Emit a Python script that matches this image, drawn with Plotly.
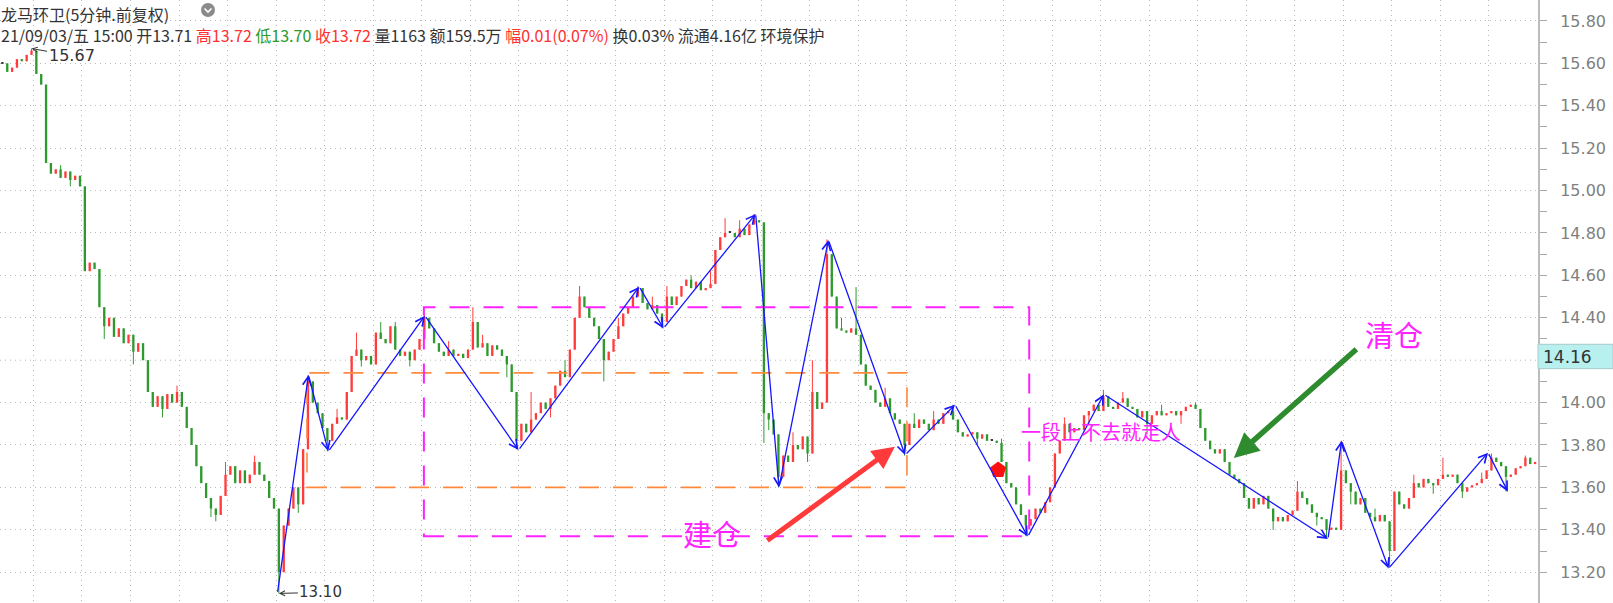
import plotly.graph_objects as go

# ---------------- data ----------------
first_open = 15.60
closes = [
    15.60, 15.56, 15.58, 15.62, 15.61, 15.64, 15.66, 15.55, 15.50, 15.13,
    15.08, 15.10, 15.06, 15.09, 15.05, 15.07, 15.02, 14.62, 14.66, 14.63,
    14.45, 14.36, 14.40, 14.31, 14.35, 14.28, 14.32, 14.24, 14.28, 14.20,
    14.05, 13.98, 14.03, 13.97, 14.04, 14.00, 14.05, 13.98, 13.88, 13.80,
    13.70, 13.62, 13.55, 13.50, 13.47, 13.56, 13.66, 13.70, 13.62, 13.68,
    13.62, 13.66, 13.72, 13.66, 13.63, 13.55, 13.50, 13.20, 13.42, 13.50,
    13.60, 13.52, 13.78, 14.10, 14.00, 13.95, 13.88, 13.82, 13.90, 13.93,
    13.92, 14.05, 14.22, 14.25, 14.20, 14.22, 14.18, 14.33, 14.30, 14.28,
    14.36, 14.25, 14.22, 14.24, 14.20, 14.25, 14.30, 14.40, 14.35, 14.28,
    14.24, 14.22, 14.25, 14.22, 14.23, 14.21, 14.25, 14.38, 14.26, 14.28,
    14.22, 14.27, 14.25, 14.22, 14.18, 14.05, 13.82, 13.90, 13.86, 13.92,
    13.95, 14.00, 13.97, 14.02, 14.08, 14.15, 14.12, 14.25, 14.40, 14.50,
    14.45, 14.40, 14.36, 14.30, 14.20, 14.24, 14.30, 14.36, 14.42, 14.45,
    14.50, 14.54, 14.47, 14.44, 14.46, 14.42, 14.38, 14.50, 14.46, 14.50,
    14.55, 14.58, 14.54, 14.57, 14.53, 14.54, 14.56, 14.72, 14.78, 14.80,
    14.80, 14.78, 14.82, 14.79, 14.84, 14.86, 14.85, 13.95, 13.92, 13.85,
    13.65, 13.75, 13.72, 13.80, 13.78, 13.84, 13.76, 14.05, 13.97, 14.00,
    14.70, 14.50, 14.35, 14.34, 14.33, 14.35, 14.32, 14.18, 14.08, 14.06,
    14.00, 13.98, 14.02, 13.95, 13.92, 13.90, 13.80, 13.90, 13.88, 13.92,
    13.90, 13.87, 13.92, 13.90, 13.95, 13.96, 13.92, 13.86, 13.84, 13.85,
    13.86, 13.83, 13.85, 13.82, 13.82, 13.81, 13.72, 13.62, 13.60, 13.52,
    13.47, 13.42, 13.45, 13.50, 13.48, 13.53, 13.60, 13.76, 13.82, 13.90,
    13.86, 13.88, 13.87, 13.94, 13.96, 13.99, 13.96, 14.03, 13.98, 13.97,
    14.00, 14.02, 13.98, 13.97, 13.93, 13.96, 13.90, 13.94, 13.96, 13.94,
    13.95, 13.96, 13.94, 13.96, 13.98, 13.99, 13.97, 13.88, 13.82, 13.78,
    13.76, 13.78, 13.72, 13.66, 13.64, 13.62, 13.55, 13.50, 13.55, 13.52,
    13.56, 13.50, 13.44, 13.46, 13.44, 13.47, 13.49, 13.58, 13.55, 13.52,
    13.48, 13.46, 13.45, 13.40, 13.41, 13.40, 13.68, 13.62, 13.58, 13.52,
    13.55, 13.48, 13.46, 13.44, 13.47, 13.44, 13.30, 13.58, 13.52, 13.50,
    13.55, 13.62, 13.60, 13.64, 13.62, 13.61, 13.64, 13.66, 13.65, 13.66,
    13.62, 13.58, 13.60, 13.61, 13.62, 13.64, 13.68, 13.74, 13.72, 13.70,
    13.65, 13.66, 13.69, 13.70, 13.74, 13.71, 13.72,
]
high_marks = [(6, 15.67), (12, 15.12), (23, 14.38), (36, 14.08), (46, 13.72),
              (52, 13.75), (63, 14.13), (69, 13.97), (73, 14.33), (78, 14.38),
              (81, 14.38), (87, 14.42), (92, 14.29), (97, 14.45), (99, 14.32),
              (109, 14.05), (116, 14.20), (119, 14.55), (127, 14.40), (131, 14.55),
              (134, 14.50), (137, 14.55), (142, 14.60), (146, 14.62), (149, 14.87),
              (152, 14.86), (155, 14.89), (163, 13.86), (167, 14.20), (170, 14.77),
              (173, 14.40), (176, 14.545), (182, 14.07), (188, 13.95), (192, 13.96),
              (196, 13.99), (206, 13.83), (219, 13.93), (227, 14.06), (231, 14.05),
              (239, 13.99), (246, 14.00), (256, 13.60), (267, 13.63), (276, 13.82),
              (283, 13.50), (291, 13.66), (297, 13.74), (305, 13.67), (307, 13.76),
              (314, 13.75)]
low_marks = [(14, 15.02), (21, 14.30), (27, 14.18), (33, 13.93), (43, 13.46),
             (44, 13.44), (57, 13.10), (61, 13.48), (67, 13.77), (74, 14.17),
             (84, 14.17), (104, 14.12), (106, 13.78), (113, 13.93), (124, 14.10),
             (136, 14.35), (157, 13.81), (158, 13.87), (160, 13.60), (166, 13.72),
             (186, 13.75), (201, 13.80), (211, 13.37), (216, 13.55), (224, 13.90),
             (236, 13.85), (243, 13.90), (262, 13.40), (271, 13.42), (273, 13.36),
             (278, 13.52), (286, 13.22), (295, 13.57), (301, 13.55), (310, 13.58)]

# zig-zag (bar index, price)
zig_x = [56.7, 63.1, 67.2, 87.1, 106.4, 131.3, 136.3, 155.3, 160.1, 170.3,
         186.1, 196.4, 211.4, 227.1, 273.3, 276.1, 285.8, 306.3, 310.4]
zig_y = [13.10, 14.13, 13.77, 14.41, 13.776, 14.547, 14.35, 14.89, 13.60, 14.767,
         13.753, 13.99, 13.368, 14.039, 13.357, 13.82, 13.218, 13.764, 13.58]

orange_box = (62.8, 186.5, 13.60, 14.14)   # x0, x1, y0, y1
magenta_box = (86.9, 211.7, 13.37, 14.45)

# labelled ticks (14.20 sits under the last-price box, so it only gets a grid line)
y_ticks = [13.2, 13.4, 13.6, 13.8, 14.0, 14.4, 14.6, 14.8, 15.0, 15.2, 15.4, 15.6, 15.8]
y_hidden = 14.2
y_minor = [13.3, 13.5, 13.7, 13.9, 14.1, 14.2, 14.3, 14.5, 14.7, 14.9, 15.1, 15.3, 15.5, 15.7]

last_price = 14.16
max_label = (6, 15.67)
min_label = (57, 13.10)
buy_marker = (205.3, 13.682)

title_line1 = "龙马环卫(5分钟.前复权)"
hdr = dict(date="21/09/03/五 15:00", open="13.71", high="13.72", low="13.70",
           close="13.72", vol="1163", amt="159.5万", chg="0.01(0.07%)",
           turn="0.03%", flow="4.16亿", sector="环境保护")

# ---------------- build ----------------
RED, GREEN, DARK = "#ff3c3c", "#2f9a2f", "#3a3a3a"
n = len(closes)
idx = list(range(n))
opens = [first_open] + closes[:-1]
highs = [max(o, c) for o, c in zip(opens, closes)]
lows = [min(o, c) for o, c in zip(opens, closes)]
for i, v in high_marks:
    highs[i] = max(highs[i], v)
for i, v in low_marks:
    lows[i] = min(lows[i], v)

colors = []
for o, c in zip(opens, closes):
    colors.append(RED if c > o else (GREEN if c < o else DARK))

fig = go.Figure()

# wicks
for col in (RED, GREEN, DARK):
    xs, ys = [], []
    for i in idx:
        if colors[i] == col:
            xs += [i, i, None]
            ys += [lows[i], highs[i], None]
    fig.add_trace(go.Scatter(x=xs, y=ys, mode="lines", line=dict(color=col, width=1),
                             hoverinfo="skip", showlegend=False))

# bodies
fig.add_trace(go.Bar(
    x=idx,
    y=[max(abs(c - o), 0.006) for o, c in zip(opens, closes)],
    base=[min(o, c) for o, c in zip(opens, closes)],
    width=0.48, marker=dict(color=colors, line=dict(width=0)),
    hoverinfo="skip", showlegend=False))

# buy marker
fig.add_trace(go.Scatter(x=[buy_marker[0]], y=[buy_marker[1]], mode="markers",
                         marker=dict(symbol="pentagon", size=17, color="#ff1010"),
                         hoverinfo="skip", showlegend=False))

shapes = []
# grid line for the unlabeled 14.20 level
shapes.append(dict(type="line", xref="paper", yref="y", x0=0, x1=1, y0=y_hidden, y1=y_hidden,
                   line=dict(color="#b8b8b8", width=1, dash="1px,4px"), layer="below"))
dash = "20px,14px"
x0, x1, y0, y1 = orange_box
shapes.append(dict(type="rect", xref="x", yref="y", x0=x0, x1=x1, y0=y0, y1=y1,
                   line=dict(color="#ff8a3d", width=1.6, dash=dash)))
x0, x1, y0, y1 = magenta_box
shapes.append(dict(type="rect", xref="x", yref="y", x0=x0, x1=x1, y0=y0, y1=y1,
                   line=dict(color="#ff22ff", width=2, dash=dash)))
# last price box
PW = 1538.0
shapes.append(dict(type="rect", xref="paper", yref="y", x0=1.0, x1=1613 / PW,
                   y0=last_price, y1=last_price + 0.115, fillcolor="#b8f0f0",
                   line=dict(color="#a8caca", width=1), layer="above"))
# header icon
H = 603.0
shapes.append(dict(type="circle", xref="paper", yref="paper",
                   x0=201 / PW, x1=215 / PW, y0=1 - 17 / H, y1=1 - 3 / H,
                   fillcolor="#8a8a8a", line=dict(width=0)))
shapes.append(dict(type="path", xref="paper", yref="paper",
                   path=f"M {204.5/PW},{1-8.5/H} L {208/PW},{1-12/H} L {211.5/PW},{1-8.5/H}",
                   line=dict(color="white", width=1.6)))

ann = []
# zig-zag segments with arrowheads
for k in range(1, len(zig_x)):
    ann.append(dict(x=zig_x[k], y=zig_y[k], ax=zig_x[k - 1], ay=zig_y[k - 1],
                    xref="x", yref="y", axref="x", ayref="y", text="",
                    showarrow=True, arrowhead=5, arrowsize=1.3, arrowwidth=1.3,
                    arrowcolor="#1616ff", standoff=0))

font_cn = "Noto Sans CJK SC"
num_font = "DejaVu Sans"
ann.append(dict(x=max_label[0], y=max_label[1], xref="x", yref="y", text=f"{max_label[1]:.2f}",
                showarrow=True, ax=40, ay=7, arrowhead=5, arrowsize=1, arrowwidth=1,
                arrowcolor="#333", font=dict(family=num_font, size=16, color="#333")))
ann.append(dict(x=min_label[0], y=min_label[1], xref="x", yref="y", text=f"{min_label[1]:.2f}",
                showarrow=True, ax=42, ay=-1, arrowhead=5, arrowsize=1, arrowwidth=1,
                arrowcolor="#333", font=dict(family=num_font, size=15, color="#333")))
ann.append(dict(x=1.0 + 3 / PW, y=last_price + 0.057, xref="paper", yref="y",
                text=f"{last_price:.2f}", showarrow=False, xanchor="left", yanchor="middle",
                font=dict(family=num_font, size=17, color="#333")))

# header (two lines in one text block)
r, g = "#ff3030", "#2a9a2a"
line2 = (f"{hdr['date']} 开{hdr['open']} "
         f"<span style='color:{r}'>高{hdr['high']}</span> "
         f"<span style='color:{g}'>低{hdr['low']}</span> "
         f"<span style='color:{r}'>收{hdr['close']}</span> "
         f"量{hdr['vol']} 额{hdr['amt']} "
         f"<span style='color:{r}'>幅{hdr['chg']}</span> "
         f"换{hdr['turn']} 流通{hdr['flow']} {hdr['sector']}")
ann.append(dict(x=0, y=1 - 0.5 / H, xref="paper", yref="paper",
                text=title_line1 + "<br>" + line2, align="left",
                showarrow=False, xanchor="left", yanchor="top", borderpad=0,
                font=dict(family=font_cn, size=16, color="#333")))

# big annotations
MAG = "#ff22ff"
ann.append(dict(x=712 / PW, y=1 - 556 / H, xref="paper", yref="paper", text="建仓",
                showarrow=False, font=dict(family=font_cn, size=29, color=MAG)))
ann.append(dict(x=1425 / PW, y=1 - 334 / H, xref="paper", yref="paper", text="清仓",
                showarrow=False, font=dict(family=font_cn, size=29, color=MAG)))
ann.append(dict(x=1019 / PW, y=1 - 448 / H, xref="paper", yref="paper", text="一段上不去就走人",
                showarrow=False, xanchor="left", font=dict(family=font_cn, size=20, color=MAG)))
# coloured arrows
ann.append(dict(x=184.0, y=13.792, xref="x", yref="y", ax=-129, ay=95, text="",
                showarrow=True, arrowhead=2, arrowsize=0.9, arrowwidth=5, arrowcolor="#ff3a3a"))
ann.append(dict(x=253.9, y=13.739, xref="x", yref="y", ax=124, ay=-110, text="",
                showarrow=True, arrowhead=2, arrowsize=0.9, arrowwidth=5.5, arrowcolor="#2e8b2e"))

fig.update_layout(
    width=1613, height=603, margin=dict(l=0, r=75, t=0, b=0),
    paper_bgcolor="white", plot_bgcolor="white", barmode="overlay",
    showlegend=False, shapes=shapes, annotations=ann, hovermode=False,
    xaxis=dict(range=[-0.495, 316.6], showticklabels=False, ticks="", zeroline=False,
               showgrid=True, gridcolor="#b8b8b8", griddash="1px,4px", gridwidth=1,
               tickmode="linear", tick0=16.41, dtick=10, showline=False, fixedrange=True),
    yaxis=dict(range=[13.0547, 15.899], side="right", tickmode="array", tickvals=y_ticks,
               tickformat=".2f", ticks="outside", ticklen=7, tickcolor="#a8a8a8",
               showline=True, linecolor="#bdbdbd", linewidth=2, zeroline=False,
               showgrid=True, gridcolor="#b8b8b8", griddash="1px,4px", gridwidth=1,
               tickfont=dict(family=num_font, size=16, color="#7f7f7f"),
               ticklabelstandoff=10,
               minor=dict(tickvals=y_minor, ticks="outside", ticklen=7, tickcolor="#a8a8a8",
                          showgrid=False)),
)

fig.write_html("out.html", config={"displayModeBar": False},
               post_script="document.body.style.margin='0';document.body.style.overflow='hidden';")
